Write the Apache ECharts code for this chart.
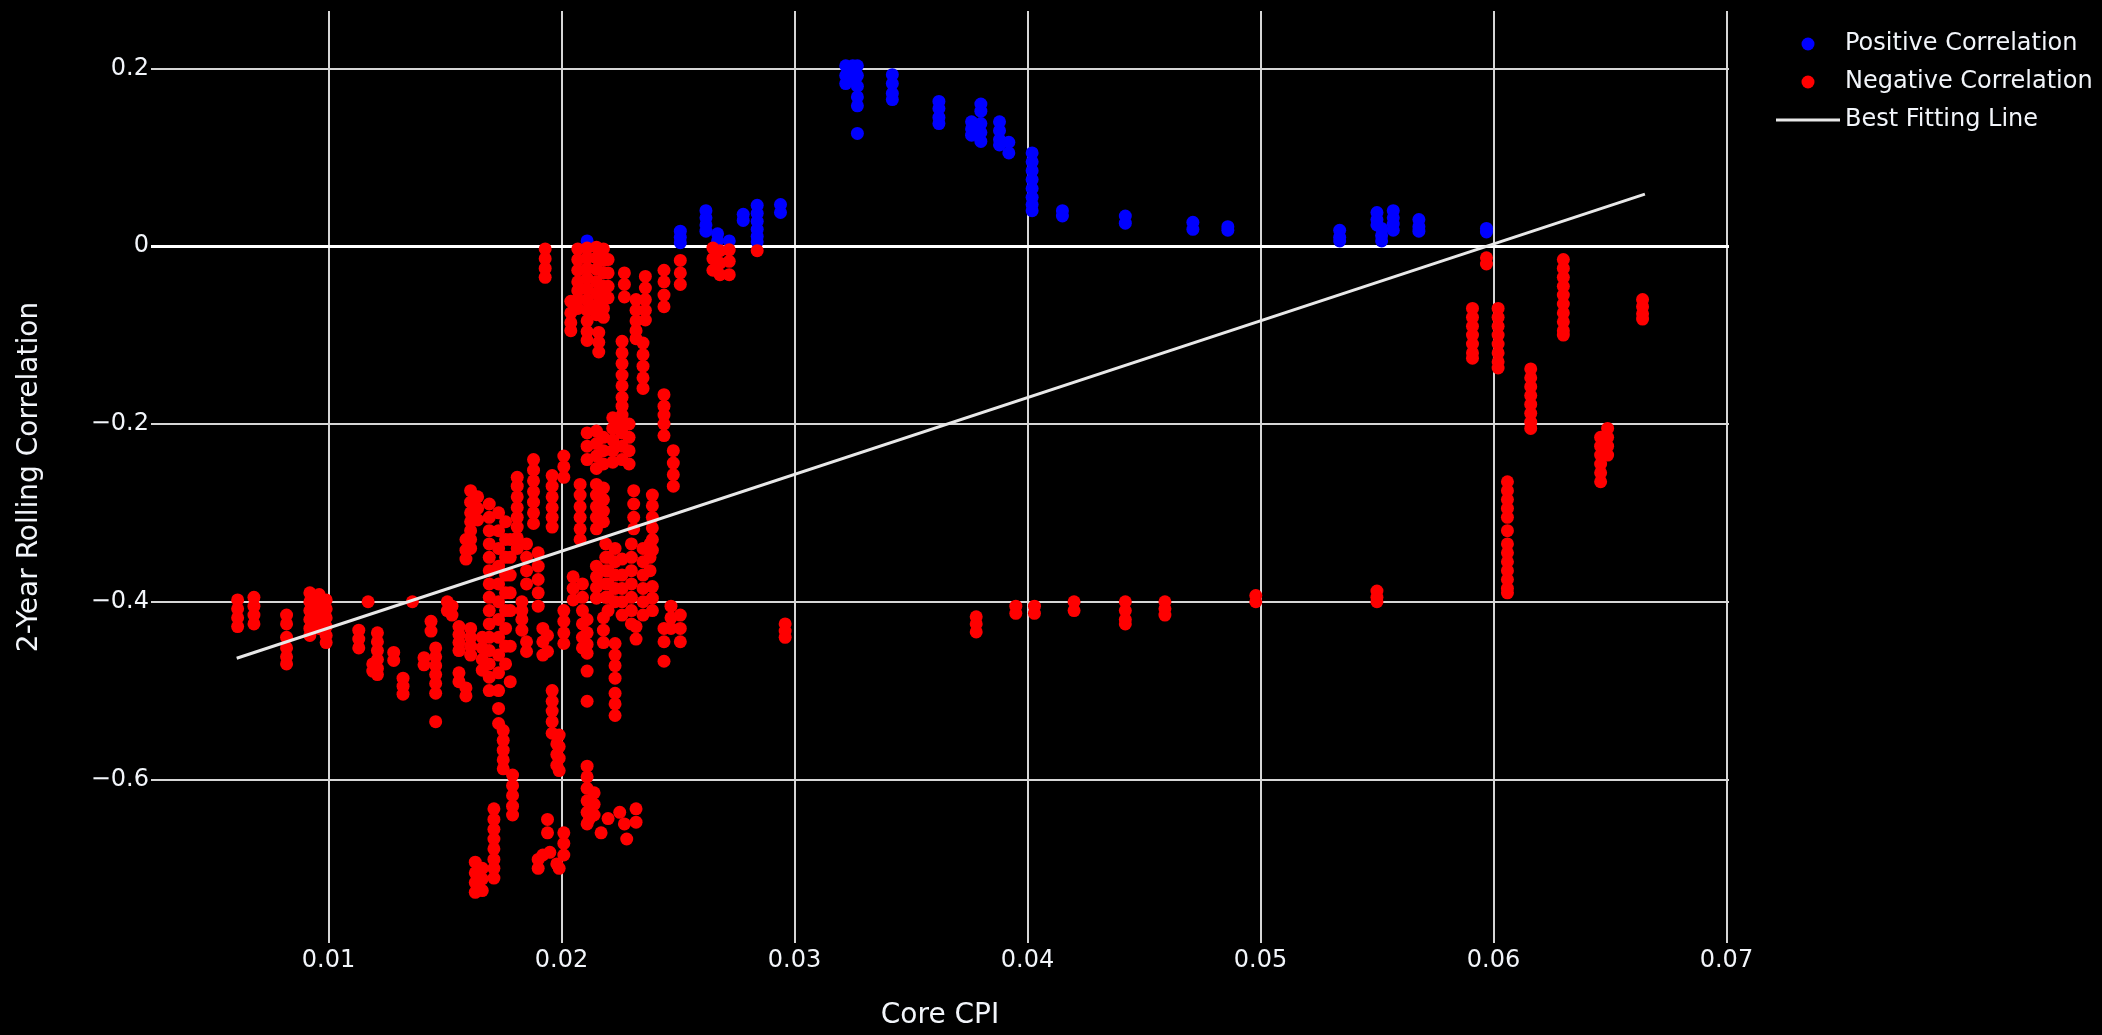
<!DOCTYPE html>
<html>
<head>
<meta charset="utf-8">
<title>Core CPI vs 2-Year Rolling Correlation</title>
<script src="https://cdn.jsdelivr.net/npm/echarts@6/dist/echarts.min.js"></script>
<style>
  html, body { margin: 0; padding: 0; background: #000; }
  #chart { width: 2102px; height: 1035px; }
</style>
</head>
<body>
<div id="chart"></div>
<script>
// Core CPI levels with a positive rolling correlation, and the readings seen at each level
const posCPI = [0.0211, 0.0251, 0.0262, 0.0267, 0.0272, 0.0278, 0.0284, 0.0294,
  0.0322, 0.0325, 0.0327, 0.0342, 0.0362, 0.0376, 0.0380, 0.0388, 0.0392, 0.0402,
  0.0415, 0.0442, 0.0471, 0.0486, 0.0534, 0.0550, 0.0552, 0.0557, 0.0568, 0.0597];
const posCorr = [
  [0.006],
  [0.017, 0.010, 0.004],
  [0.040, 0.032, 0.024, 0.017],
  [0.014, 0.006],
  [0.006],
  [0.036, 0.029],
  [0.046, 0.037, 0.028, 0.019, 0.011, 0.005],
  [0.047, 0.038],
  [0.203, 0.192, 0.183],
  [0.203, 0.190],
  [0.203, 0.192, 0.180, 0.168, 0.158, 0.127],
  [0.193, 0.183, 0.172, 0.165],
  [0.163, 0.155, 0.145, 0.138],
  [0.140, 0.132, 0.125],
  [0.160, 0.152, 0.138, 0.128, 0.118],
  [0.140, 0.130, 0.120, 0.114],
  [0.117, 0.105],
  [0.105, 0.095, 0.085, 0.075, 0.065, 0.055, 0.047, 0.040],
  [0.040, 0.034],
  [0.034, 0.026],
  [0.027, 0.019],
  [0.022, 0.018],
  [0.018, 0.010, 0.006],
  [0.038, 0.030, 0.024],
  [0.020, 0.012, 0.006],
  [0.040, 0.032, 0.025, 0.018],
  [0.030, 0.022, 0.017],
  [0.020, 0.016]
];

// Core CPI levels with a negative rolling correlation, and the readings seen at each level
const negCPI = [0.0061, 0.0068, 0.0082, 0.0092, 0.0096, 0.0099, 0.0113, 0.0117, 0.0119,
  0.0121, 0.0128, 0.0132, 0.0136, 0.0141, 0.0144, 0.0146, 0.0151, 0.0153, 0.0156,
  0.0159, 0.0161, 0.0163, 0.0164, 0.0166, 0.0169, 0.0171, 0.0173, 0.0175, 0.0176,
  0.0178, 0.0179, 0.0181, 0.0183, 0.0185, 0.0188, 0.0190, 0.0192, 0.0193, 0.0194,
  0.0195, 0.0196, 0.0198, 0.0199, 0.0201, 0.0204, 0.0205, 0.0207, 0.0208, 0.0209,
  0.0211, 0.0212, 0.0214, 0.0215, 0.0216, 0.0217, 0.0218, 0.0219, 0.0220, 0.0222,
  0.0223, 0.0225, 0.0226, 0.0227, 0.0228, 0.0229, 0.0230, 0.0231, 0.0232, 0.0235,
  0.0236, 0.0238, 0.0239, 0.0244, 0.0247, 0.0248, 0.0251, 0.0265, 0.0268, 0.0272,
  0.0284, 0.0296, 0.0378, 0.0395, 0.0403, 0.0420, 0.0442, 0.0459, 0.0498, 0.0550,
  0.0591, 0.0597, 0.0602, 0.0606, 0.0616, 0.0630, 0.0646, 0.0649, 0.0664];
const negCorr = [
  [-0.398, -0.408, -0.418, -0.428],
  [-0.395, -0.405, -0.415, -0.425],
  [-0.415, -0.425, -0.440, -0.452, -0.462, -0.470],
  [-0.390, -0.400, -0.410, -0.420, -0.430, -0.438],
  [-0.392, -0.402, -0.412, -0.422, -0.430],
  [-0.398, -0.408, -0.418, -0.428, -0.438, -0.446],
  [-0.432, -0.442, -0.452],
  [-0.400],
  [-0.470, -0.478],
  [-0.435, -0.445, -0.455, -0.465, -0.475, -0.482],
  [-0.457, -0.466],
  [-0.486, -0.495, -0.504],
  [-0.400],
  [-0.463, -0.471],
  [-0.422, -0.433],
  [-0.452, -0.462, -0.472, -0.482, -0.492, -0.503, -0.535],
  [-0.400, -0.410],
  [-0.405, -0.415],
  [-0.428, -0.437, -0.446, -0.455, -0.480, -0.490],
  [-0.330, -0.342, -0.352, -0.497, -0.506],
  [-0.275, -0.288, -0.300, -0.310, -0.320, -0.330, -0.340, -0.430, -0.440, -0.450, -0.460],
  [-0.693, -0.705, -0.716, -0.727],
  [-0.282, -0.295, -0.308],
  [-0.440, -0.452, -0.465, -0.477, -0.700, -0.712, -0.725],
  [-0.290, -0.305, -0.320, -0.335, -0.350, -0.365, -0.380, -0.395, -0.410, -0.425, -0.440, -0.455, -0.470, -0.485, -0.500],
  [-0.633, -0.645, -0.656, -0.667, -0.678, -0.690, -0.700, -0.711],
  [-0.300, -0.320, -0.340, -0.360, -0.380, -0.400, -0.420, -0.440, -0.460, -0.480, -0.500, -0.520, -0.537],
  [-0.545, -0.556, -0.567, -0.578, -0.588],
  [-0.310, -0.330, -0.350, -0.370, -0.390, -0.410, -0.430, -0.450, -0.470],
  [-0.330, -0.350, -0.370, -0.390, -0.410, -0.450, -0.490],
  [-0.595, -0.607, -0.618, -0.630, -0.640],
  [-0.260, -0.270, -0.282, -0.294, -0.305, -0.316, -0.328, -0.340],
  [-0.400, -0.410, -0.420, -0.432],
  [-0.335, -0.350, -0.365, -0.380, -0.445, -0.456],
  [-0.240, -0.252, -0.264, -0.276, -0.288, -0.300, -0.312],
  [-0.345, -0.360, -0.375, -0.390, -0.405, -0.690, -0.700],
  [-0.430, -0.445, -0.460, -0.685],
  [-0.003, -0.014, -0.025, -0.035],
  [-0.438, -0.456, -0.645, -0.660],
  [-0.682],
  [-0.258, -0.270, -0.282, -0.294, -0.305, -0.316, -0.500, -0.512, -0.523, -0.535, -0.548],
  [-0.560, -0.572, -0.584, -0.695],
  [-0.550, -0.563, -0.576, -0.590, -0.700],
  [-0.236, -0.248, -0.260, -0.410, -0.422, -0.435, -0.447, -0.660, -0.672, -0.685],
  [-0.062, -0.075, -0.086, -0.095],
  [-0.372, -0.385, -0.398],
  [-0.003, -0.015, -0.027, -0.040, -0.050, -0.060, -0.070],
  [-0.268, -0.280, -0.293, -0.305, -0.318, -0.330],
  [-0.380, -0.395, -0.410, -0.425, -0.440, -0.452],
  [-0.002, -0.013, -0.025, -0.036, -0.048, -0.060, -0.072, -0.084, -0.096, -0.106, -0.210, -0.225, -0.240,
   -0.420, -0.435, -0.448, -0.458, -0.478, -0.512, -0.585, -0.597, -0.610, -0.624, -0.637, -0.650],
  [-0.644],
  [-0.615, -0.628, -0.640],
  [-0.001, -0.013, -0.026, -0.040, -0.053, -0.066, -0.077, -0.208, -0.222, -0.236, -0.250,
   -0.268, -0.280, -0.293, -0.305, -0.318, -0.360, -0.372, -0.384, -0.396],
  [-0.097, -0.108, -0.119],
  [-0.660],
  [-0.003, -0.016, -0.030, -0.045, -0.058, -0.070, -0.080, -0.215, -0.230, -0.245,
   -0.272, -0.285, -0.298, -0.310, -0.418, -0.432, -0.446],
  [-0.335, -0.350, -0.365, -0.380, -0.395],
  [-0.015, -0.030, -0.045, -0.058, -0.350, -0.365, -0.380, -0.395, -0.410, -0.644],
  [-0.193, -0.205, -0.218, -0.230, -0.243],
  [-0.340, -0.355, -0.370, -0.385, -0.400, -0.447, -0.460, -0.472, -0.486, -0.503, -0.515, -0.528],
  [-0.637],
  [-0.107, -0.120, -0.132, -0.145, -0.157, -0.170, -0.180, -0.190, -0.200, -0.210, -0.225, -0.240,
   -0.352, -0.370, -0.385, -0.400, -0.415],
  [-0.030, -0.043, -0.057, -0.650],
  [-0.667],
  [-0.200, -0.215, -0.230, -0.245],
  [-0.335, -0.350, -0.365, -0.380, -0.395, -0.410, -0.425],
  [-0.275, -0.290, -0.305, -0.318],
  [-0.060, -0.072, -0.084, -0.095, -0.104, -0.428, -0.442, -0.633, -0.648],
  [-0.109, -0.122, -0.135, -0.148, -0.160, -0.340, -0.355, -0.370, -0.385, -0.400, -0.415],
  [-0.034, -0.047, -0.060, -0.072, -0.083],
  [-0.335, -0.350, -0.365],
  [-0.280, -0.292, -0.305, -0.317, -0.330, -0.342, -0.383, -0.396, -0.410],
  [-0.027, -0.040, -0.055, -0.068, -0.167, -0.180, -0.190, -0.200, -0.213, -0.430, -0.445, -0.467],
  [-0.405, -0.418, -0.430],
  [-0.230, -0.244, -0.257, -0.270],
  [-0.016, -0.030, -0.043, -0.415, -0.430, -0.445],
  [-0.002, -0.014, -0.027],
  [-0.005, -0.019, -0.032],
  [-0.004, -0.017, -0.032],
  [-0.005],
  [-0.425, -0.433, -0.440],
  [-0.417, -0.425, -0.434],
  [-0.405, -0.413],
  [-0.405, -0.413],
  [-0.400, -0.410],
  [-0.400, -0.410, -0.420, -0.425],
  [-0.400, -0.408, -0.415],
  [-0.393, -0.400],
  [-0.388, -0.395, -0.400],
  [-0.070, -0.080, -0.090, -0.100, -0.110, -0.120, -0.126],
  [-0.013, -0.020],
  [-0.070, -0.080, -0.090, -0.100, -0.110, -0.120, -0.130, -0.137],
  [-0.265, -0.275, -0.285, -0.295, -0.305, -0.320, -0.335, -0.345, -0.355, -0.365, -0.375, -0.385, -0.390],
  [-0.138, -0.148, -0.158, -0.168, -0.178, -0.188, -0.198, -0.205],
  [-0.015, -0.025, -0.035, -0.045, -0.055, -0.065, -0.075, -0.085, -0.095, -0.100],
  [-0.215, -0.225, -0.235, -0.245, -0.255, -0.265],
  [-0.205, -0.215, -0.225, -0.235],
  [-0.060, -0.068, -0.076, -0.082]
];

// End points of the least-squares fit across the CPI range
const fitCPI = [0.00606, 0.0665];
const fitCorr = [-0.4636, 0.0586];

// Axis tick values
const xTicks = [0.01, 0.02, 0.03, 0.04, 0.05, 0.06, 0.07];
const yTicks = [-0.6, -0.4, -0.2, 0, 0.2];

const FONT = '"DejaVu Sans", Verdana, sans-serif';
const TEXT = '#f2f5fa';
const GRID = '#d6d6d6';

function toPoints(xs, ys) {
  const pts = [];
  xs.forEach((x, i) => ys[i].forEach(y => pts.push([x, y])));
  return pts;
}

const chart = echarts.init(document.getElementById('chart'), null, { renderer: 'canvas' });

const gridLines = [
  ...xTicks.map(v => ({ xAxis: v })),
  ...yTicks.filter(v => v !== 0).map(v => ({ yAxis: v })),
  { yAxis: 0, lineStyle: { color: '#ffffff', width: 3 } }
];

chart.setOption({
  backgroundColor: '#000000',
  animation: false,
  grid: { left: 151, right: 373, top: 11, bottom: 87, containLabel: false },
  legend: {
    orient: 'vertical',
    left: 1771,
    top: 27,
    itemWidth: 64,
    itemHeight: 13,
    itemGap: 14,
    textStyle: { color: TEXT, fontSize: 24, fontFamily: FONT, lineHeight: 24 },
    data: [
      { name: 'Positive Correlation', icon: 'circle' },
      { name: 'Negative Correlation', icon: 'circle' },
      // plain stroke for the fitted line, no marker
      { name: 'Best Fitting Line', icon: 'path://M0,0L64,0L64,3L0,3Z' }
    ]
  },
  xAxis: {
    type: 'value',
    min: 0.002382,
    max: 0.07011,
    name: 'Core CPI',
    nameLocation: 'middle',
    nameGap: 59,
    nameTextStyle: { color: TEXT, fontSize: 28, fontFamily: FONT },
    axisLine: { show: false },
    axisTick: { show: false },
    splitLine: { show: false },
    axisLabel: {
      customValues: xTicks,
      color: TEXT, fontSize: 24, fontFamily: FONT, margin: 6,
      formatter: v => String(v)
    }
  },
  yAxis: {
    type: 'value',
    min: -0.784,
    max: 0.2647,
    name: '2-Year Rolling Correlation',
    nameLocation: 'middle',
    nameGap: 107,
    nameTextStyle: { color: TEXT, fontSize: 28, fontFamily: FONT },
    axisLine: { show: false },
    axisTick: { show: false },
    splitLine: { show: false },
    axisLabel: {
      customValues: yTicks,
      color: TEXT, fontSize: 24, fontFamily: FONT, margin: 2,
      formatter: v => (v < 0 ? '\u2212' : '') + String(Math.abs(v))
    }
  },
  series: [
    {
      name: 'grid',
      type: 'line',
      data: [],
      z: 0,
      silent: true,
      markLine: {
        silent: true,
        z: 0,
        animation: false,
        symbol: ['none', 'none'],
        label: { show: false },
        lineStyle: { color: GRID, width: 2, type: 'solid' },
        emphasis: { disabled: true },
        data: gridLines
      }
    },
    {
      name: 'Positive Correlation',
      type: 'scatter',
      z: 2,
      symbol: 'circle',
      symbolSize: 13,
      itemStyle: { color: '#0000ff', opacity: 1 },
      data: toPoints(posCPI, posCorr)
    },
    {
      name: 'Negative Correlation',
      type: 'scatter',
      z: 3,
      symbol: 'circle',
      symbolSize: 13,
      itemStyle: { color: '#ff0000', opacity: 1 },
      data: toPoints(negCPI, negCorr)
    },
    {
      name: 'Best Fitting Line',
      type: 'line',
      z: 4,
      symbol: 'none',
      showSymbol: false,
      lineStyle: { color: '#e8e8e8', width: 3 },
      itemStyle: { color: '#e8e8e8' },
      data: fitCPI.map((x, i) => [x, fitCorr[i]])
    }
  ]
});
</script>
</body>
</html>
